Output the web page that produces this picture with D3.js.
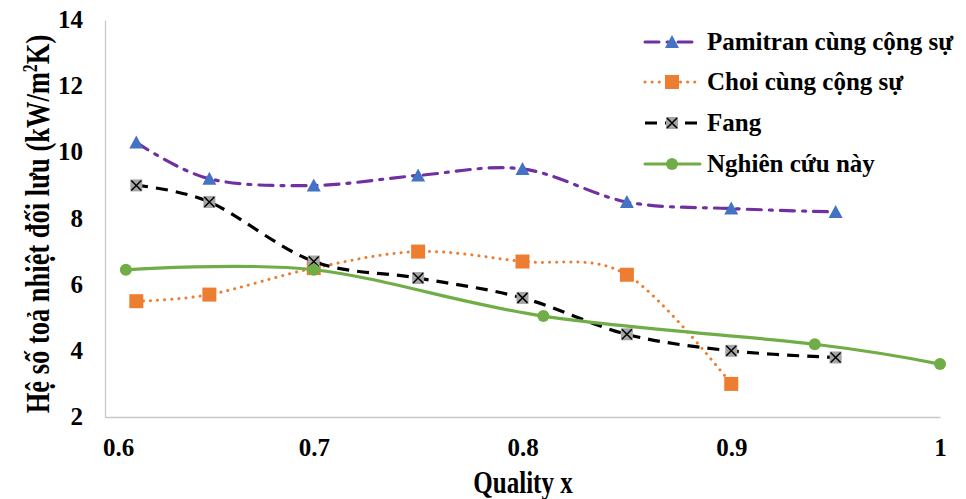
<!DOCTYPE html>
<html>
<head>
<meta charset="utf-8">
<script src="https://cdn.jsdelivr.net/npm/d3@7"></script>
<style>
  html, body { margin: 0; padding: 0; background: #fff; }
  svg { display: block; }
</style>
</head>
<body>
<svg id="chart" width="966" height="499"></svg>
<script>
// Convective heat transfer coefficient vs. vapour quality
const xTicks = [0.6, 0.7, 0.8, 0.9, 1];
const yTicks = [2, 4, 6, 8, 10, 12, 14];

const pamitranX = [0.615, 0.65, 0.7, 0.75, 0.8, 0.85, 0.9, 0.95];
const pamitranY = [10.3, 9.2, 9.0, 9.3, 9.5, 8.5, 8.3, 8.2];

const choiX = [0.615, 0.65, 0.7, 0.75, 0.8, 0.85, 0.9];
const choiY = [5.5, 5.7, 6.5, 7.0, 6.7, 6.3, 3.0];

const fangX = [0.615, 0.65, 0.7, 0.75, 0.8, 0.85, 0.9, 0.95];
const fangY = [9.0, 8.5, 6.7, 6.2, 5.6, 4.5, 4.0, 3.8];

const studyX = [0.61, 0.7, 0.81, 0.94, 1.0];
const studyY = [6.45, 6.45, 5.05, 4.2, 3.6];

const seriesNames = ["Pamitran cùng cộng sự", "Choi cùng cộng sự", "Fang", "Nghiên cứu này"];

const FONT = '"Liberation Serif", "Times New Roman", serif';

const svg = d3.select("#chart");
const plot = { left: 105, right: 940, top: 20, bottom: 417 };

const x = d3.scaleLinear().domain([0.6, 1]).range([plot.left, plot.right]);
const y = d3.scaleLinear().domain([2, 14]).range([plot.bottom, plot.top]);

function styleText(sel, size) {
  return sel.style("font-family", FONT).style("font-weight", "bold")
    .style("font-size", size + "px").attr("fill", "#000");
}

// axes: light grey lines, no tick marks
const xAxis = svg.append("g")
  .attr("transform", `translate(0,${plot.bottom})`)
  .call(d3.axisBottom(x).tickValues(xTicks).tickSize(0).tickPadding(21)
    .tickFormat(d => d === 1 ? "1" : d3.format(".1f")(d)));
const yAxis = svg.append("g")
  .attr("transform", `translate(${plot.left},0)`)
  .call(d3.axisLeft(y).tickValues(yTicks).tickSize(0).tickPadding(22));

[xAxis, yAxis].forEach(g => {
  g.select(".domain").attr("stroke", "#c8c8c8").attr("stroke-width", 1.3);
  styleText(g.selectAll("text"), 25);
});
xAxis.selectAll(".tick text").attr("dy", "0.71em");
xAxis.selectAll(".tick").filter(d => d === 0.6).select("text").attr("dx", 13);
yAxis.selectAll(".tick text").attr("dy", "0.3em");

// axis titles
styleText(svg.append("text"), 25)
  .attr("transform", "translate(523,493) scale(1,1.3)")
  .attr("text-anchor", "middle")
  .text("Quality x");

const yTitle = styleText(svg.append("text"), 26.5)
  .attr("transform", `translate(49,224) rotate(-90) scale(1,1.3)`)
  .attr("text-anchor", "middle");
yTitle.append("tspan").text("Hệ số toả nhiệt đối lưu (kW/m");
yTitle.append("tspan").attr("dy", -9).style("font-size", "16px").text("2");
yTitle.append("tspan").attr("dy", 9).text("K)");

const curve = d3.curveCardinal.tension(0);
const line = d3.line().x(d => x(d[0])).y(d => y(d[1])).curve(curve);

const series = [
  { xs: pamitranX, ys: pamitranY, stroke: "#7030a0", dash: "14 8 3 8", cap: "round", marker: "triangle" },
  { xs: choiX, ys: choiY, stroke: "#ed7d31", dash: "0.1 7", cap: "round", marker: "square" },
  { xs: fangX, ys: fangY, stroke: "#000000", dash: "12 8", cap: "butt", marker: "xbox" },
  { xs: studyX, ys: studyY, stroke: "#70ad47", dash: null, cap: "round", marker: "circle" }
];

function drawMarker(g, type, cx, cy) {
  if (type === "triangle") {
    g.append("path")
      .attr("d", `M${cx},${cy - 7}L${cx + 7},${cy + 6}L${cx - 7},${cy + 6}Z`)
      .attr("fill", "#4472c4");
  } else if (type === "square") {
    g.append("rect").attr("x", cx - 7).attr("y", cy - 7).attr("width", 14).attr("height", 14)
      .attr("fill", "#ed7d31");
  } else if (type === "xbox") {
    g.append("rect").attr("x", cx - 6).attr("y", cy - 6).attr("width", 12).attr("height", 12)
      .attr("fill", "#a5a5a5");
    g.append("path")
      .attr("d", `M${cx - 5},${cy - 5}L${cx + 5},${cy + 5}M${cx + 5},${cy - 5}L${cx - 5},${cy + 5}`)
      .attr("stroke", "#000").attr("stroke-width", 1.5);
  } else if (type === "circle") {
    g.append("circle").attr("cx", cx).attr("cy", cy).attr("r", 6).attr("fill", "#70ad47");
  }
}

series.forEach(s => {
  const pts = s.xs.map((v, i) => [v, s.ys[i]]);
  svg.append("path")
    .datum(pts)
    .attr("d", line)
    .attr("fill", "none")
    .attr("stroke", s.stroke)
    .attr("stroke-width", s.marker === "square" ? 3 : 3.2)
    .attr("stroke-linecap", s.cap)
    .attr("stroke-dasharray", s.dash);
  const mg = svg.append("g");
  pts.forEach(p => drawMarker(mg, s.marker, x(p[0]), y(p[1])));
});

// legend
const legendY = [42, 82, 123, 164];
series.forEach((s, i) => {
  const ly = legendY[i];
  const g = svg.append("g");
  g.append("line")
    .attr("x1", 645).attr("x2", 700).attr("y1", ly).attr("y2", ly)
    .attr("stroke", s.stroke).attr("stroke-width", 3)
    .attr("stroke-linecap", s.cap)
    .attr("stroke-dasharray", s.dash);
  drawMarker(g, s.marker, 672, ly);
  styleText(g.append("text"), 25)
    .attr("x", 707).attr("y", ly + 8)
    .text(seriesNames[i]);
});
</script>
</body>
</html>
